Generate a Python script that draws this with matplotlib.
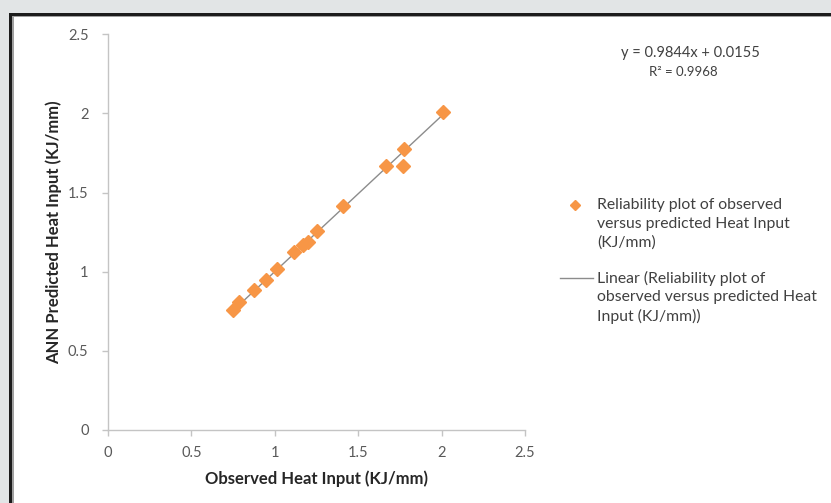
import matplotlib
matplotlib.use("Agg")
import matplotlib.pyplot as plt
from matplotlib.patches import Rectangle
import numpy as np

# Data
observed = [0.748, 0.787, 0.875, 0.945, 1.011, 1.117, 1.171, 1.201, 1.255,
            1.407, 1.665, 1.775, 1.770, 2.007]
predicted = [0.757, 0.810, 0.884, 0.947, 1.015, 1.122, 1.168, 1.189, 1.259,
             1.415, 1.669, 1.775, 1.668, 2.011]
slope, intercept = 0.9844, 0.0155
r2 = 0.9968
ticks = [0, 0.5, 1, 1.5, 2, 2.5]
tick_labels = ["0", "0.5", "1", "1.5", "2", "2.5"]

W, H = 831, 503
plt.rcParams["font.family"] = ["Lato", "DejaVu Sans"]

fig = plt.figure(figsize=(W / 100, H / 100), dpi=100)
fig.patch.set_facecolor("#e2e5e6")


def fx(px):
    return px / W


def fy(py):
    return 1 - py / H


# panel frame
fig.add_artist(Rectangle((fx(9), -0.1), 1.2, fy(13) + 0.1, transform=fig.transFigure,
                         facecolor="#1c1c1c", edgecolor="none", zorder=0))
fig.add_artist(Rectangle((fx(12), -0.1), 1.2, fy(16) + 0.1, transform=fig.transFigure,
                         facecolor="#a0a0a0", edgecolor="none", zorder=0))
fig.add_artist(Rectangle((fx(14), -0.1), 1.2, fy(17) + 0.1, transform=fig.transFigure,
                         facecolor="white", edgecolor="none", zorder=0))

ax = fig.add_axes([fx(108), fy(429.8), fx(525) - fx(108), fy(34.3) - fy(429.8)])
ax.set_facecolor("none")
ax.set_xlim(0, 2.5)
ax.set_ylim(0, 2.5)

orange = "#f79646"
trend_x = np.array([min(observed), max(observed)])
ax.plot(trend_x, slope * trend_x + intercept, color="#8c8c8c", lw=1.0, zorder=2)
ax.plot(observed, predicted, linestyle="none", marker="D", ms=7.6,
        color=orange, mec=orange, zorder=3)

for s in ["top", "right"]:
    ax.spines[s].set_visible(False)
for s in ["left", "bottom"]:
    ax.spines[s].set_color("#c4c4c4")
    ax.spines[s].set_linewidth(1.0)
ax.set_xticks(ticks)
ax.set_xticklabels(tick_labels)
ax.set_yticks(ticks)
ax.set_yticklabels(tick_labels)
ax.tick_params(colors="#c4c4c4", labelcolor="#595959", labelsize=10.5,
               length=4, width=1, direction="out")
ax.tick_params(axis="x", pad=8)
ax.tick_params(axis="y", pad=10)

ax.set_xlabel("Observed Heat Input (KJ/mm)", fontsize=12, fontweight="bold",
              color="#262626", labelpad=7)
ax.set_ylabel("ANN Predicted Heat Input (KJ/mm)", fontsize=12, fontweight="bold",
              color="#262626", labelpad=4)

# equation
fig.text(fx(690), fy(53), "y = 0.9844x + 0.0155", ha="center", va="center",
         fontsize=10.5, color="#404040")
fig.text(fx(683), fy(72), f"R\u00b2 = {r2:.4f}", ha="center", va="center",
         fontsize=9.5, color="#404040")

# legend
lax = fig.add_axes([0, 0, 1, 1])
lax.set_xlim(0, W)
lax.set_ylim(H, 0)
lax.axis("off")
lax.patch.set_visible(False)
lax.plot([575], [205], marker="D", ms=5, color=orange, mec=orange, linestyle="none")
lax.plot([560, 593], [278, 278], color="#8c8c8c", lw=1.0)
leg_lines1 = ["Reliability plot of observed", "versus predicted Heat Input", "(KJ/mm)"]
leg_lines2 = ["Linear (Reliability plot of", "observed versus predicted Heat",
              "Input (KJ/mm))"]
for i, t in enumerate(leg_lines1):
    lax.text(597, 205 + 19 * i, t, ha="left", va="center", fontsize=11.3, color="#404040")
for i, t in enumerate(leg_lines2):
    lax.text(597, 278 + 19 * i, t, ha="left", va="center", fontsize=11.3, color="#404040")

fig.savefig("out.png", dpi=100, facecolor=fig.get_facecolor())
